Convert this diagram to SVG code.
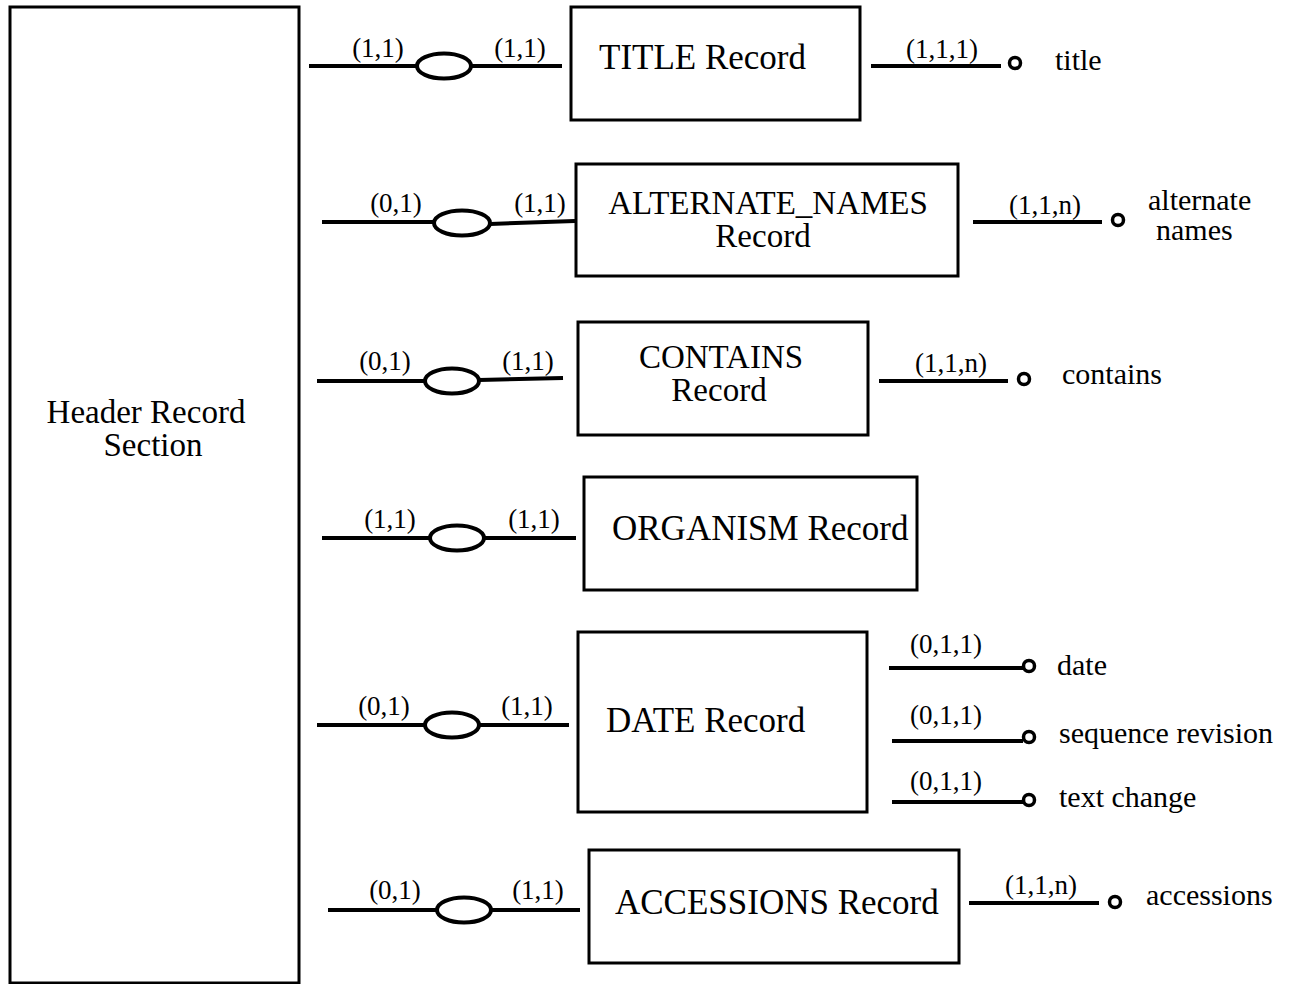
<svg xmlns="http://www.w3.org/2000/svg" width="1291" height="984" viewBox="0 0 1291 984">
  <style>
    .box { fill: #fff; stroke: #000; stroke-width: 3; }
    .ln { fill: none; stroke: #000; stroke-width: 4; stroke-linecap: butt; }
    .rel { fill: #fff; stroke: #000; stroke-width: 4; }
    .att { fill: #fff; stroke: #000; stroke-width: 3.5; }
    .name { font-family: "Liberation Serif", "Times New Roman", serif; font-size: 35px; fill: #000; }
    .two { font-size: 33px; }
    .card { font-family: "Liberation Serif", "Times New Roman", serif; font-size: 27px; fill: #000; text-anchor: middle; }
    .attr { font-family: "Liberation Serif", "Times New Roman", serif; font-size: 30px; fill: #000; }
    .mid { text-anchor: middle; }
  </style>
  <rect width="1291" height="984" fill="#fff"/>

  <!-- Header section -->
  <g id="header">
    <rect class="box" x="10" y="7" width="289" height="976"/>
    <text class="name two mid" x="146" y="423">Header Record</text>
    <text class="name two mid" x="153" y="456">Section</text>
  </g>

  <!-- Record nodes -->
  <g id="title-record">
    <rect class="box" x="571" y="7" width="289" height="113"/>
    <text class="name" x="599" y="69">TITLE Record</text>
  </g>
  <g id="alternate-names-record">
    <rect class="box" x="576" y="164" width="382" height="112"/>
    <text class="name two mid" x="768" y="214">ALTERNATE_NAMES</text>
    <text class="name two mid" x="763" y="247">Record</text>
  </g>
  <g id="contains-record">
    <rect class="box" x="578" y="322" width="290" height="113"/>
    <text class="name two mid" x="721" y="368">CONTAINS</text>
    <text class="name two mid" x="719" y="401">Record</text>
  </g>
  <g id="organism-record">
    <rect class="box" x="584" y="477" width="333" height="113"/>
    <text class="name" x="612" y="540">ORGANISM Record</text>
  </g>
  <g id="date-record">
    <rect class="box" x="578" y="632" width="289" height="180"/>
    <text class="name" x="606" y="732">DATE Record</text>
  </g>
  <g id="accessions-record">
    <rect class="box" x="589" y="850" width="370" height="113"/>
    <text class="name" x="615" y="914">ACCESSIONS Record</text>
  </g>

  <!-- Relationship ovals with cardinalities, and attribute links -->
  <g id="connectors">
    <!-- title -->
    <line class="ln" x1="309" y1="66" x2="417" y2="66"/>
    <ellipse class="rel" cx="444" cy="66" rx="27" ry="12.5"/>
    <line class="ln" x1="471" y1="66" x2="562" y2="66"/>
    <text class="card" x="378" y="57">(1,1)</text>
    <text class="card" x="520" y="57">(1,1)</text>

    <!-- alternate names -->
    <line class="ln" x1="322" y1="222" x2="434" y2="222"/>
    <ellipse class="rel" cx="462" cy="223" rx="28" ry="12.5"/>
    <line class="ln" x1="490" y1="224" x2="575" y2="221"/>
    <text class="card" x="396" y="212">(0,1)</text>
    <text class="card" x="540" y="212">(1,1)</text>

    <!-- contains -->
    <line class="ln" x1="317" y1="381" x2="425" y2="381"/>
    <ellipse class="rel" cx="452" cy="381" rx="27" ry="12.5"/>
    <line class="ln" x1="479" y1="380" x2="563" y2="378"/>
    <text class="card" x="385" y="370">(0,1)</text>
    <text class="card" x="528" y="370">(1,1)</text>

    <!-- organism -->
    <line class="ln" x1="322" y1="538" x2="430" y2="538"/>
    <ellipse class="rel" cx="457" cy="538" rx="27" ry="12.5"/>
    <line class="ln" x1="484" y1="538" x2="576" y2="538"/>
    <text class="card" x="390" y="528">(1,1)</text>
    <text class="card" x="534" y="528">(1,1)</text>

    <!-- date -->
    <line class="ln" x1="317" y1="725" x2="425" y2="725"/>
    <ellipse class="rel" cx="452" cy="725" rx="27" ry="12.5"/>
    <line class="ln" x1="479" y1="725" x2="569" y2="725"/>
    <text class="card" x="384" y="715">(0,1)</text>
    <text class="card" x="527" y="715">(1,1)</text>

    <!-- accessions -->
    <line class="ln" x1="328" y1="910" x2="437" y2="910"/>
    <ellipse class="rel" cx="464" cy="910" rx="27" ry="12.5"/>
    <line class="ln" x1="491" y1="910" x2="580" y2="910"/>
    <text class="card" x="395" y="899">(0,1)</text>
    <text class="card" x="538" y="899">(1,1)</text>

    <!-- attribute links -->
    <line class="ln" x1="871" y1="66" x2="1001" y2="66"/>
    <circle class="att" cx="1015" cy="63" r="5.5"/>
    <text class="card" x="942" y="58">(1,1,1)</text>

    <line class="ln" x1="973" y1="222" x2="1102" y2="222"/>
    <circle class="att" cx="1118" cy="220" r="5.5"/>
    <text class="card" x="1045" y="214">(1,1,n)</text>

    <line class="ln" x1="879" y1="381" x2="1008" y2="381"/>
    <circle class="att" cx="1024" cy="379" r="5.5"/>
    <text class="card" x="951" y="372">(1,1,n)</text>

    <line class="ln" x1="889" y1="668" x2="1023" y2="668"/>
    <circle class="att" cx="1029" cy="666" r="5.5"/>
    <text class="card" x="946" y="653">(0,1,1)</text>

    <line class="ln" x1="892" y1="741" x2="1023" y2="741"/>
    <circle class="att" cx="1029" cy="737" r="5.5"/>
    <text class="card" x="946" y="724">(0,1,1)</text>

    <line class="ln" x1="892" y1="802" x2="1023" y2="802"/>
    <circle class="att" cx="1029" cy="800" r="5.5"/>
    <text class="card" x="946" y="790">(0,1,1)</text>

    <line class="ln" x1="969" y1="903" x2="1099" y2="903"/>
    <circle class="att" cx="1115" cy="902" r="5.5"/>
    <text class="card" x="1041" y="894">(1,1,n)</text>
  </g>

  <!-- Attribute names -->
  <g id="attributes">
    <text class="attr" x="1055" y="70">title</text>
    <text class="attr" x="1148" y="210">alternate</text>
    <text class="attr" x="1156" y="240">names</text>
    <text class="attr" x="1062" y="384">contains</text>
    <text class="attr" x="1057" y="675">date</text>
    <text class="attr" x="1059" y="743">sequence revision</text>
    <text class="attr" x="1059" y="807">text change</text>
    <text class="attr" x="1146" y="905">accessions</text>
  </g>
</svg>
